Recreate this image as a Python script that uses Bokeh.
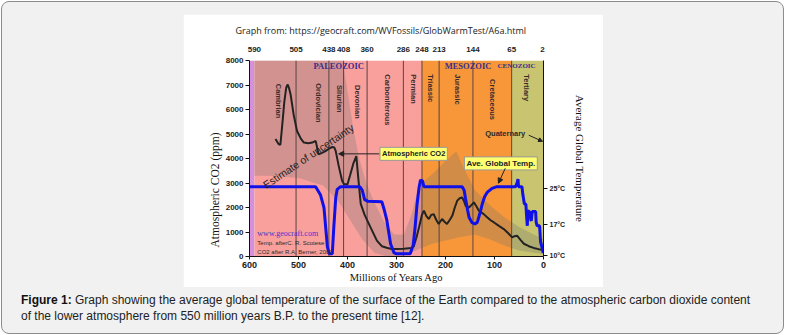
import math
from bokeh.plotting import figure
from bokeh.models import Range1d, LinearAxis, FixedTicker, Label, Arrow, NormalHead, Div, Title
from bokeh.layouts import column
from bokeh.core.properties import value
from bokeh.embed import file_html
from bokeh.resources import INLINE

# ---------------- data ----------------
era_left = [600, 590, 248, 65]
era_right = [590, 248, 65, 0]
era_colors = ["#d68fdc", "#f9a09c", "#f7973a", "#c8c46f"]
era_names = ["PALEOZOIC", "MESOZOIC", "CENOZOIC"]
era_name_x = [418, 154, 55]
era_name_y = [7760, 7760, 7760]

period_bounds = [505, 438, 408, 360, 286, 248, 213, 144, 65]
top_ticks = [590, 505, 438, 408, 360, 286, 248, 213, 144, 65, 2]
periods = ["Cambrian", "Ordovician", "Silurian", "Devonian", "Carboniferous",
           "Permian", "Triassic", "Jurassic", "Cretaceous", "Tertiary"]
period_x = [541, 459, 416, 380, 318, 265, 231, 176, 104, 35]
period_top = [7050, 7070, 7000, 7000, 7440, 7440, 7440, 7440, 7240, 7440]

co2_age = [547, 541, 537, 533, 529, 525, 522, 519, 516, 510, 503, 495, 489, 480,
           472, 465, 462, 459, 452, 445, 438, 431, 427, 424, 418, 411, 407, 400,
           395, 388, 382, 378, 373, 365, 353, 340, 330, 320, 312, 300, 285, 270,
           265, 259, 254, 248, 244, 239, 234, 229, 224, 219, 214, 207, 202, 197,
           191, 186, 181, 176, 171, 166, 162, 159, 152, 147, 142, 137, 132, 127,
           122, 115, 108, 101, 91, 81, 72, 64, 59, 54, 47, 40, 30, 20, 10, 3]
co2_ppm = [4800, 4600, 4550, 5400, 6300, 6900, 7020, 6850, 6600, 5800, 5120, 4800,
           4650, 4620, 4650, 4720, 4450, 4170, 4230, 4300, 4400, 4470, 4450, 4300,
           3700, 3090, 2950, 2950, 3300, 3800, 4100, 3200, 2150, 1700, 1190, 650,
           420, 360, 320, 310, 320, 350, 400, 800, 1190, 1700, 1870, 1650, 1530,
           1700, 1730, 1500, 1330, 1530, 1420, 1330, 1500, 1670, 2000, 2280, 2380,
           2410, 2250, 2070, 2000, 2100, 2210, 2050, 1870, 1800, 1730, 1600, 1480,
           1390, 1250, 1120, 950, 780, 830, 850, 680, 520, 420, 350, 300, 270]

temp_age = [600, 465, 455, 448, 441, 437, 431, 428, 424, 421, 414, 375, 370, 365,
            358, 330, 325, 320, 312, 305, 300, 272, 266, 262, 258, 254, 251, 247,
            244, 166, 162, 159, 155, 152, 146, 140, 135, 130, 125, 120, 115, 105,
            95, 57, 54, 52, 51, 44, 42, 39, 36, 34, 33, 32, 27, 26, 25, 23, 16, 15,
            13, 8, 6, 2, 0.5]
temp_c = [25.5, 25.5, 23.6, 20.8, 11.9, 10.4, 10.4, 16.3, 23.0, 24.9, 25.5, 25.5,
          24.7, 22.6, 22.2, 22.1, 20.3, 18.1, 12.6, 10.6, 10.4, 10.4, 12.3, 16.4,
          21.6, 25.3, 27.0, 26.8, 25.5, 25.5, 24.7, 22.7, 20.3, 18.6, 17.4, 17.1,
          17.5, 19.4, 21.6, 23.3, 24.2, 25.1, 25.5, 25.5, 26.3, 27.2, 25.5, 25.5,
          23.6, 21.6, 21.6, 18.1, 16.7, 20.1, 19.7, 18.1, 17.8, 19.9, 19.9, 17.5,
          16.7, 16.7, 13.1, 11.4, 10.6]
temp_ticks = [10, 17, 25]

unc_age = [590, 410, 398, 388, 376, 362, 345, 325, 305, 285, 268, 258, 248, 225,
           200, 178, 165, 140, 110, 80, 50, 20, 0,
           0, 20, 50, 80, 110, 140, 170, 200, 230, 255, 275, 295, 320, 345, 370,
           395, 420, 450, 500, 560, 590]
unc_ppm = [8000, 8000, 6500, 5200, 4000, 3000, 2200, 1400, 900, 900, 1800, 2600,
           3000, 3400, 3900, 4300, 3700, 2700, 2100, 1600, 1200, 900, 700,
           100, 150, 250, 450, 700, 900, 800, 650, 500, 300, 100, 0, 0, 150, 700,
           1500, 2300, 2900, 3200, 3300, 3300]

caption_bold = "Figure 1:"
caption_lines = ["Graph showing the average global temperature of the surface of the Earth compared to the atmospheric carbon dioxide content",
                 "of the lower atmosphere from 550 million years B.P. to the present time [12]."]

# ---------------- chart ----------------
p = figure(width=420, height=273, x_range=Range1d(600, 0), y_range=Range1d(0, 8000),
           output_backend="svg", toolbar_location=None,
           min_border_left=66, min_border_right=60, min_border_top=45, min_border_bottom=31,
           background_fill_color="white", border_fill_color="white", outline_line_color=None)
p.grid.visible = False

p.quad(left=era_left, right=era_right, bottom=0, top=8000, fill_color=era_colors, line_color=None)
p.patch(unc_age, unc_ppm, fill_color="#6f6f6f", fill_alpha=0.28, line_color=None)
for b in period_bounds:
    p.line([b, b], [0, 8000], line_color="#5a4444", line_width=1)

p.text(x=period_x, y=period_top, text=periods, angle=-math.pi / 2, text_align="left",
       text_baseline="middle", text_font=value("Liberation Sans"), text_font_style="bold",
       text_font_size="7.5px", text_color="#3b2a2a")
p.text(x=era_name_x[:2], y=era_name_y[:2], text=era_names[:2], text_align="center",
       text_baseline="middle", text_font=value("Liberation Serif"), text_font_style="bold",
       text_font_size="8.5px", text_color="#3a2c8c")
p.text(x=era_name_x[2:], y=era_name_y[2:], text=era_names[2:], text_align="center",
       text_baseline="middle", text_font=value("Liberation Serif"), text_font_style="bold",
       text_font_size="7px", text_color="#3a2c8c")

p.line(co2_age, co2_ppm, line_color="#232323", line_width=2)

p.extra_y_ranges = {"temp": Range1d(9.78, 53.9)}
p.line(temp_age, temp_c, y_range_name="temp", line_color="#1010e8", line_width=3)

p.text(x=[480], y=[4100], text=["Estimate of uncertainty"], angle=0.59, text_align="center",
       text_baseline="middle", text_font=value("Liberation Sans"), text_font_size="10.5px",
       text_color="#1e1e1e")
p.text(x=[584], y=[935], text=["www.geocraft.com"], text_align="left", text_baseline="middle",
       text_font=value("Liberation Serif"), text_font_size="8px", text_color="#4b33c8")
p.text(x=[584, 584], y=[570, 200],
       text=["Temp. afterC. R. Scotese", "CO2 after R.A. Berner, 2001"],
       text_align="left", text_baseline="middle", text_font=value("Liberation Sans"),
       text_font_size="6px", text_color="#2a2a2a")
p.text(x=[78], y=[5040], text=["Quaternary"], text_align="center", text_baseline="middle",
       text_font=value("Liberation Sans"), text_font_style="bold", text_font_size="7.5px",
       text_color="#2a2a2a")

def box_label(x, y, txt, size):
    lab = Label(x=x, y=y, text=txt, text_align="center", text_baseline="middle",
                text_font="Liberation Sans", text_font_style="bold", text_font_size=size,
                text_color="#222222", background_fill_color="#ffff70",
                border_line_color="#999999")
    try:
        lab.padding = 2
    except Exception:
        pass
    p.add_layout(lab)

box_label(265, 4190, "Atmospheric CO2", "7.5px")
box_label(87, 3800, "Ave. Global Temp.", "8px")
p.add_layout(Arrow(end=NormalHead(size=5, fill_color="#222", line_color="#222"),
                   x_start=335, y_start=4190, x_end=418, y_end=4190, line_width=1, line_color="#222"))
p.add_layout(Arrow(end=NormalHead(size=5, fill_color="#222", line_color="#222"),
                   x_start=78, y_start=3600, x_end=92, y_end=2990, line_width=1, line_color="#222"))
p.add_layout(Arrow(end=NormalHead(size=4, fill_color="#222", line_color="#222"),
                   x_start=30, y_start=4950, x_end=2, y_end=4700, line_width=1, line_color="#222"))

# axes
ax_font = "Liberation Sans"
left = p.left[0]
bottom = p.below[0]
left.ticker = FixedTicker(ticks=list(range(0, 8001, 1000)))
bottom.ticker = FixedTicker(ticks=list(range(0, 601, 100)))
bottom.axis_label = "Millions of Years Ago"

right = LinearAxis(y_range_name="temp", ticker=FixedTicker(ticks=temp_ticks),
                   major_label_overrides={t: f"{t}°C" for t in temp_ticks},
                   axis_label="Average Global Temperature")
p.add_layout(right, "right")
top = LinearAxis(ticker=FixedTicker(ticks=top_ticks))
p.add_layout(top, "above")

for ax in [bottom, left, right]:
    ax.major_label_text_font = ax_font
    ax.major_label_text_font_style = "bold"
    ax.major_label_text_color = "#222222"
    ax.axis_line_color = "#111111"
    ax.major_tick_line_color = "#111111"
    ax.major_tick_in = 0
    ax.major_tick_out = 4
    ax.minor_tick_line_color = None
    ax.axis_label_text_font = "Liberation Serif"
    ax.axis_label_text_font_style = "normal"
    ax.axis_label_text_color = "#111111"
    ax.axis_label_text_font_size = "10.5px"
    ax.axis_label_standoff = 4
    ax.major_label_standoff = 2
left.major_label_text_font_size = "8px"
bottom.major_label_text_font_size = "9px"
bottom.major_tick_out = 3
bottom.major_label_standoff = 2
bottom.axis_label_standoff = 1
right.major_label_text_font_size = "7px"
right.axis_label_text_font_size = "11px"
right.axis_label_standoff = 6

# left axis title: placed lower along the axis, as in the source graphic
left_title = Title(text="Atmospheric CO2 (ppm)", align="left", offset=9,
                   text_font="Liberation Serif", text_font_size="11.5px",
                   text_font_style="normal", text_color="#111111", standoff=3)
p.add_layout(left_title, "left")

top.major_label_text_font = ax_font
top.major_label_text_font_style = "bold"
top.major_label_text_font_size = "8px"
top.major_label_text_color = "#222222"
top.axis_line_color = None
top.major_tick_line_color = None
top.minor_tick_line_color = None
top.major_label_standoff = 3

p.title.text = "Graph from: https://geocraft.com/WVFossils/GlobWarmTest/A6a.html"
p.title.text_font = "Open Sans"
p.title.text_font_size = "9px"
p.title.text_font_style = "normal"
p.title.text_color = "#222222"
p.title.align = "left"
p.title.offset = -14
p.title.standoff = 14
p.margin = (12, 0, 0, 181)

# ---------------- caption ----------------
cap = Div(text=f'<span style="font-weight:bold;color:#111111">{caption_bold}</span> '
               f'{caption_lines[0]}<br>{caption_lines[1]}',
          width=762, height=40, margin=(5, 0, 1, 19),
          styles={"font-family": "'Liberation Sans', Arial, sans-serif", "font-size": "12px",
                  "line-height": "16px", "color": "#222222", "white-space": "nowrap"})

layout = column(p, cap, margin=(1, 0, 0, 1),
                styles={"background-color": "#f1f1f1", "border": "1px solid #8c8c8c",
                        "border-radius": "8px"})

open("out.html", "w").write(file_html(layout, INLINE))
